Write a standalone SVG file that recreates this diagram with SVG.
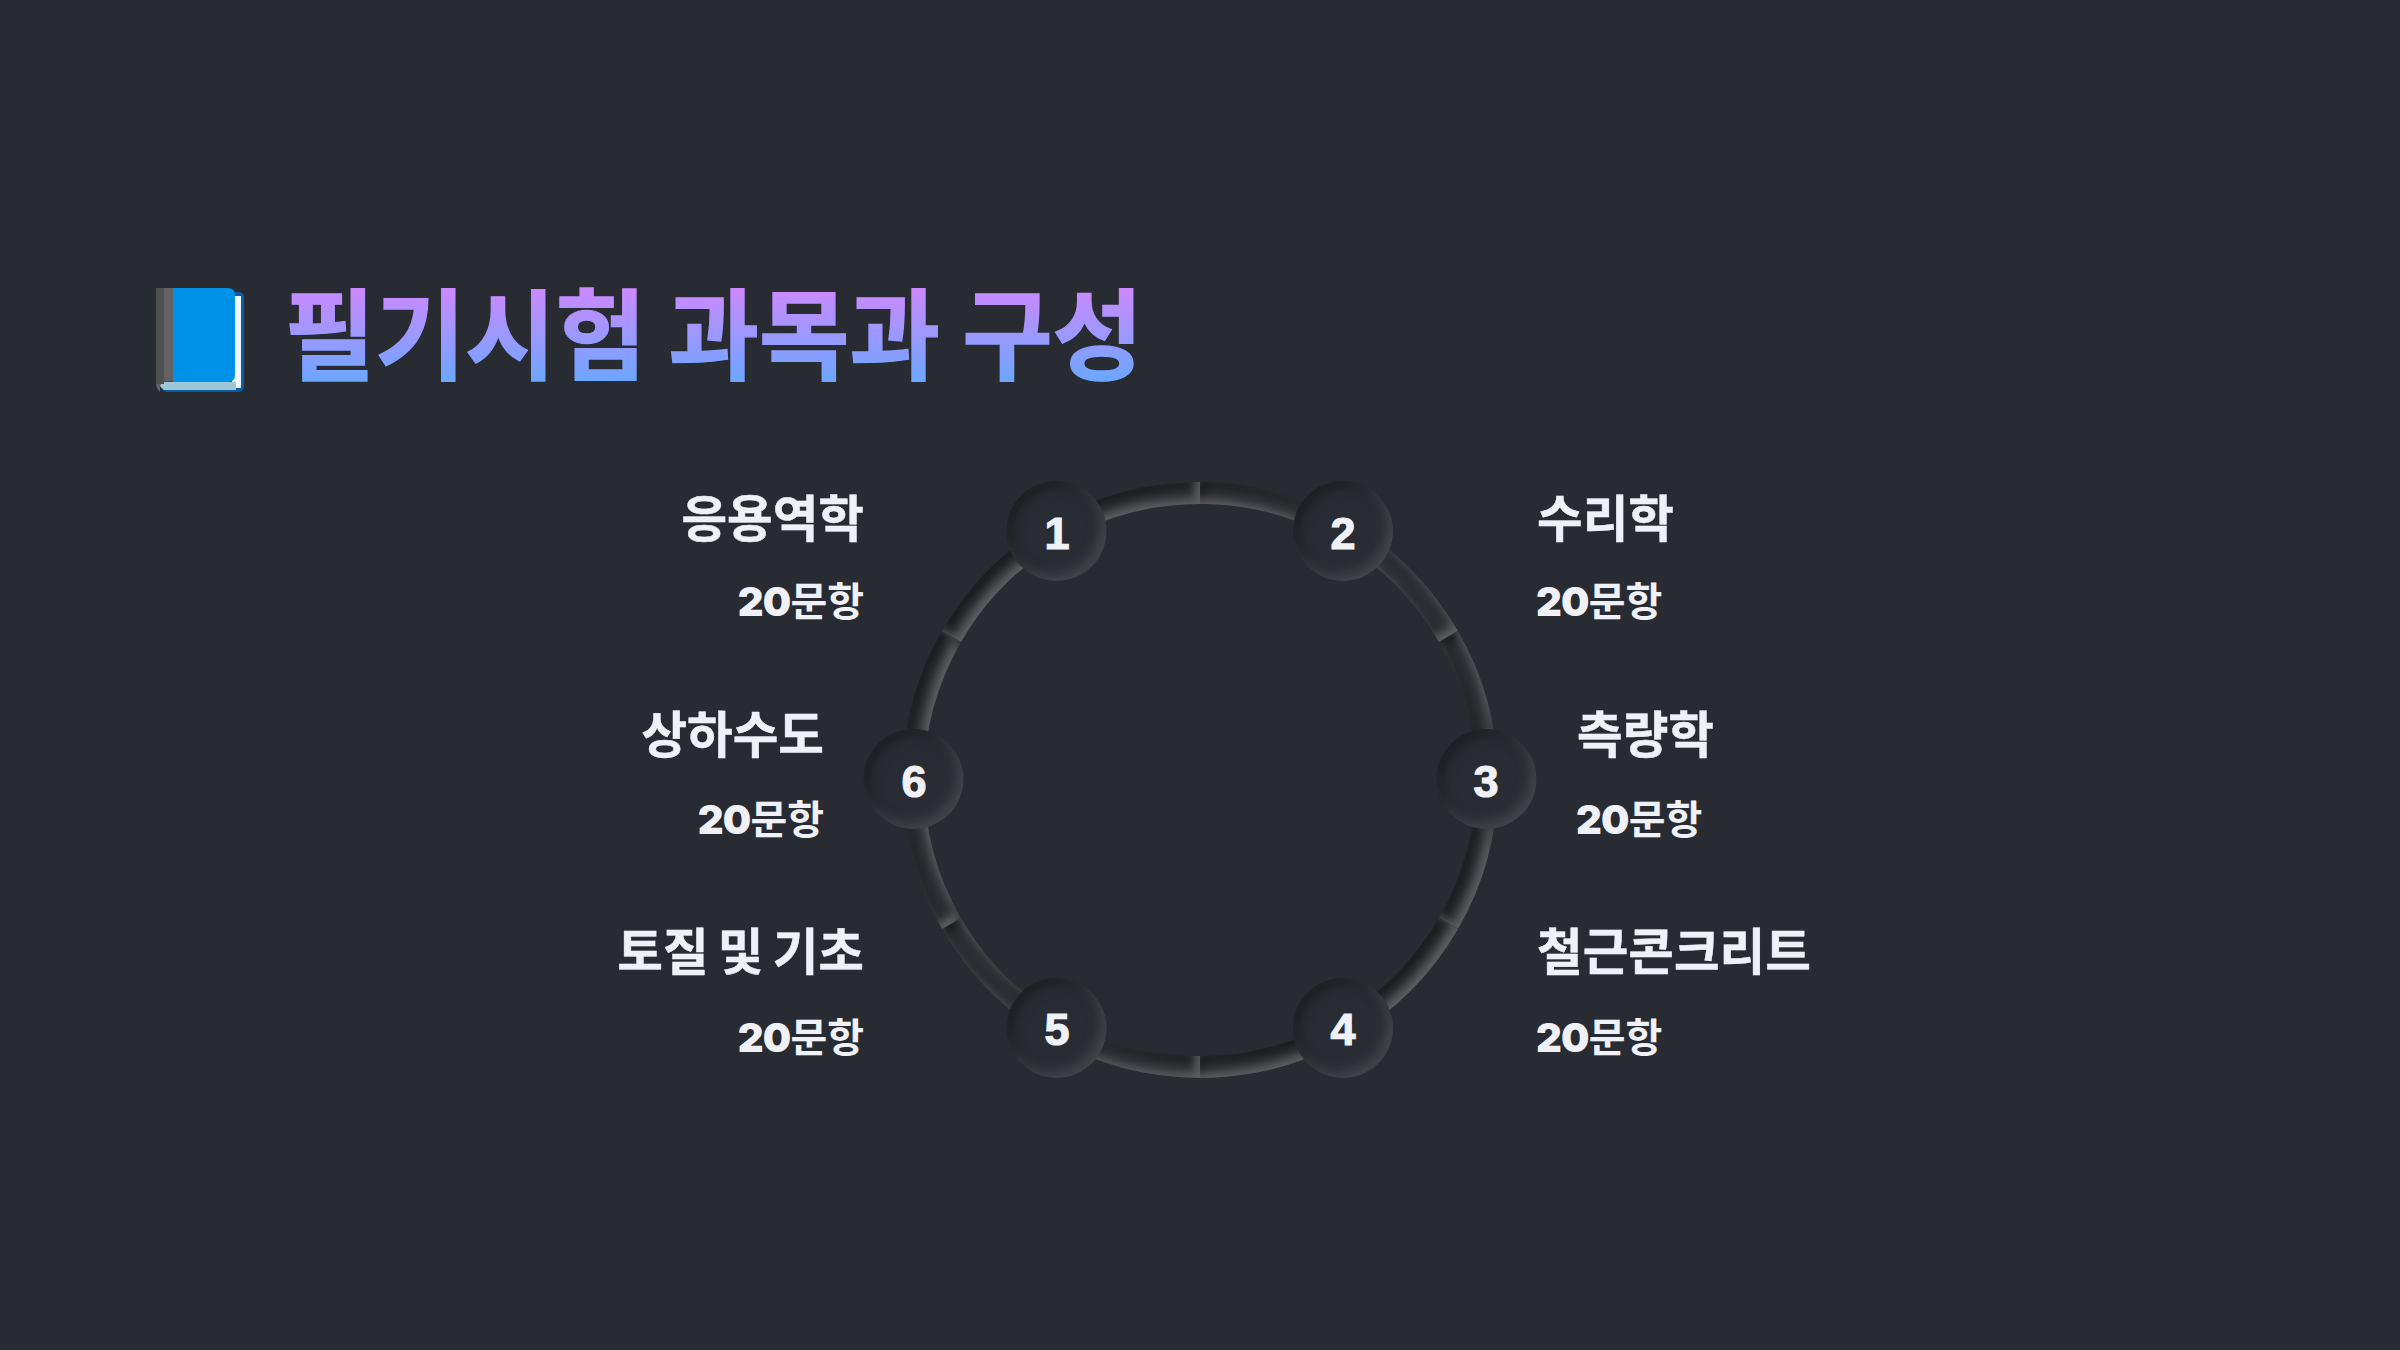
<svg xmlns="http://www.w3.org/2000/svg" width="2400" height="1350" viewBox="0 0 2400 1350">
<style>
text{font-family:"Noto Sans CJK KR","Noto Sans",sans-serif;fill:#f0f1f6}
.t{font-size:49.6px;font-weight:700;stroke:#f0f1f6;stroke-width:.5}
.s{font-size:40px;font-weight:700}
.d{font-family:"Inter","Noto Sans CJK KR",sans-serif;font-weight:900;letter-spacing:-.8px}
.n{font-size:45px;font-weight:700;font-family:"Liberation Sans","Noto Sans",sans-serif;text-anchor:middle;stroke:#f0f1f6;stroke-width:1.2}
.e{text-anchor:end}
.seg{fill:none;stroke:#2c2e33;stroke-width:22;filter:url(#inset)}
.node{fill:#292c32;filter:url(#inset2)}
</style>
<defs>
<linearGradient id="tg" gradientUnits="userSpaceOnUse" x1="0" y1="285" x2="0" y2="385"><stop offset="0" stop-color="#d088ff"/><stop offset="1" stop-color="#68a8ff"/></linearGradient>
<filter id="inset" x="-30%" y="-30%" width="160%" height="160%" color-interpolation-filters="sRGB">
<feComponentTransfer in="SourceAlpha" result="inv"><feFuncA type="table" tableValues="1 0"/></feComponentTransfer>
<feOffset in="inv" dx="5" dy="5" result="o1"/><feGaussianBlur in="o1" stdDeviation="5" result="b1"/>
<feFlood flood-color="#17181a" flood-opacity=".9"/><feComposite in2="b1" operator="in"/><feComposite in2="SourceAlpha" operator="in" result="dark"/>
<feOffset in="inv" dx="-5" dy="-5" result="o2"/><feGaussianBlur in="o2" stdDeviation="5" result="b2"/>
<feFlood flood-color="#6a6b6e" flood-opacity=".8"/><feComposite in2="b2" operator="in"/><feComposite in2="SourceAlpha" operator="in" result="light"/>
<feMerge><feMergeNode in="SourceGraphic"/><feMergeNode in="dark"/><feMergeNode in="light"/></feMerge>
</filter>
<filter id="inset2" x="-20%" y="-20%" width="140%" height="140%" color-interpolation-filters="sRGB">
<feComponentTransfer in="SourceAlpha" result="inv"><feFuncA type="table" tableValues="1 0"/></feComponentTransfer>
<feOffset in="inv" dx="6" dy="6" result="o1"/><feGaussianBlur in="o1" stdDeviation="6" result="b1"/>
<feFlood flood-color="#141517" flood-opacity=".6"/><feComposite in2="b1" operator="in"/><feComposite in2="SourceAlpha" operator="in" result="dark"/>
<feOffset in="inv" dx="-6" dy="-6" result="o2"/><feGaussianBlur in="o2" stdDeviation="6" result="b2"/>
<feFlood flood-color="#58595c" flood-opacity=".55"/><feComposite in2="b2" operator="in"/><feComposite in2="SourceAlpha" operator="in" result="light"/>
<feMerge><feMergeNode in="SourceGraphic"/><feMergeNode in="dark"/><feMergeNode in="light"/></feMerge>
</filter>
</defs>
<rect width="2400" height="1350" fill="#282b32"/>
<g id="title">
<g id="book">
<rect x="162" y="292" width="82" height="100" rx="5" fill="#0a5ca6"/>
<rect x="232" y="296" width="9" height="92" fill="#f4f7f9"/>
<path d="M160 382H236V390H164Q158 386 160 382Z" fill="#9cc8d8"/>
<path d="M156 294Q156 288 162 288H173V381H166Q160 382 160 388V392Q156 388 156 384Z" fill="#626262"/>
<rect x="156" y="288" width="8" height="96" fill="#505052"/>
<path d="M173 288H228Q235 288 235 295V375Q235 382 228 382H173Z" fill="#0092e8"/>
</g>
<text x="284.5" y="372" font-size="98.3" font-weight="700" style="fill:url(#tg);stroke:url(#tg);stroke-width:1.4">필기시험 과목과 구성</text>
</g>
<g id="connectors">
<path class="seg" d="M1200 493A287 287 0 0 1 1448.5 636.5"/>
<path class="seg" d="M1448.5 636.5A287 287 0 0 1 1448.5 923.5"/>
<path class="seg" d="M1448.5 923.5A287 287 0 0 1 1200 1067"/>
<path class="seg" d="M1200 1067A287 287 0 0 1 951.5 923.5"/>
<path class="seg" d="M951.5 923.5A287 287 0 0 1 951.5 636.5"/>
<path class="seg" d="M951.5 636.5A287 287 0 0 1 1200 493"/>
</g>
<g id="node1"><circle class="node" cx="1056.5" cy="531" r="50"/><text class="n" x="1057" y="549">1</text><text class="t e" x="864" y="537">응용역학</text><text class="s e" x="864" y="616"><tspan class="d">20</tspan>문항</text></g>
<g id="node2"><circle class="node" cx="1343" cy="531" r="50"/><text class="n" x="1343" y="549">2</text><text class="t" x="1537" y="537">수리학</text><text class="s" x="1536" y="616"><tspan class="d">20</tspan>문항</text></g>
<g id="node3"><circle class="node" cx="1486.5" cy="779" r="50"/><text class="n" x="1486" y="797">3</text><text class="t" x="1577" y="753">측량학</text><text class="s" x="1576" y="834"><tspan class="d">20</tspan>문항</text></g>
<g id="node4"><circle class="node" cx="1343" cy="1028" r="50"/><text class="n" x="1343" y="1045">4</text><text class="t" x="1537" y="970">철근콘크리트</text><text class="s" x="1536" y="1052"><tspan class="d">20</tspan>문항</text></g>
<g id="node5"><circle class="node" cx="1056.5" cy="1028" r="50"/><text class="n" x="1057" y="1045">5</text><text class="t e" x="864" y="970" word-spacing="-2">토질 및 기초</text><text class="s e" x="864" y="1052"><tspan class="d">20</tspan>문항</text></g>
<g id="node6"><circle class="node" cx="913.5" cy="779" r="50"/><text class="n" x="914" y="797">6</text><text class="t e" x="824" y="753">상하수도</text><text class="s e" x="824" y="834"><tspan class="d">20</tspan>문항</text></g>
</svg>
